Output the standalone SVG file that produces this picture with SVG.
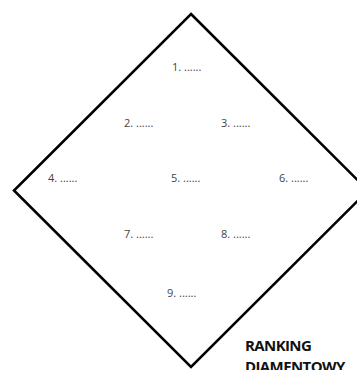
<svg xmlns="http://www.w3.org/2000/svg" width="357" height="370" viewBox="0 0 357 370">
<style>
.item{font-family:"Open Sans","Liberation Sans",sans-serif;font-size:11px;fill:#444;}
.title{font-family:"Open Sans","Liberation Sans",sans-serif;font-size:15px;font-weight:bold;fill:#111;letter-spacing:-0.6px;}
.shape{fill:none;stroke:#000;stroke-width:2.6;stroke-linejoin:miter;}
</style>
<rect width="357" height="370" fill="#fff"/>
<g id="diamond">
<polygon class="shape" points="191,14 368,190.5 191,367 14,190.5"/>
</g>
<g id="connectors"></g>
<g id="item1"><text class="item" x="172" y="71">1. ......</text></g>
<g id="item2"><text class="item" x="124" y="127">2. ......</text></g>
<g id="item3"><text class="item" x="221" y="127">3. ......</text></g>
<g id="item4"><text class="item" x="48" y="182">4. ......</text></g>
<g id="item5"><text class="item" x="171" y="182">5. ......</text></g>
<g id="item6"><text class="item" x="279" y="182">6. ......</text></g>
<g id="item7"><text class="item" x="124" y="238">7. ......</text></g>
<g id="item8"><text class="item" x="221" y="238">8. ......</text></g>
<g id="item9"><text class="item" x="167" y="297">9. ......</text></g>
<g id="title">
<text class="title" x="245" y="351">RANKING</text>
<text class="title" x="245" y="372">DIAMENTOWY</text>
</g>
</svg>
